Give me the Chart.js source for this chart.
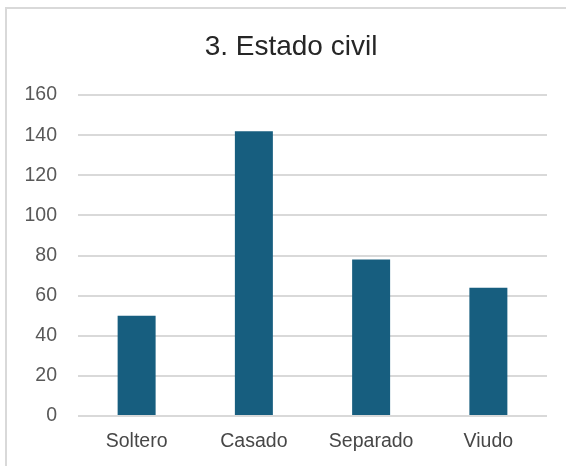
<!DOCTYPE html>
<html><head><meta charset="utf-8">
<script src="https://cdn.jsdelivr.net/npm/chart.js@4"></script>
<style>
html,body{margin:0;padding:0;background:#fff;overflow:hidden;width:566px;height:466px;}
#frame{position:absolute;left:5px;top:7px;width:700px;height:600px;border:2px solid #d9d9d9;box-sizing:border-box;}
#wrap{position:absolute;left:0;top:0;width:566px;height:466px;}
</style></head>
<body>
<div id="frame"></div>
<div id="wrap"><canvas id="c" width="566" height="466"></canvas></div>
<script>
const categories = ["Soltero", "Casado", "Separado", "Viudo"];
const values = [50, 142, 78, 64];
const yTicks = [0, 20, 40, 60, 80, 100, 120, 140, 160];
const titleText = "3. Estado civil";
const FONT = 'Liberation Sans, Arial, sans-serif';

new Chart(document.getElementById('c'), {
  type: 'bar',
  data: {
    labels: categories,
    datasets: [{ data: values, backgroundColor: '#175e7f', borderWidth: 0,
      categoryPercentage: 1.0, barPercentage: 0.324 }]
  },
  options: {
    responsive: false, animation: false,
    layout: { padding: { left: 20, right: 4, top: 0, bottom: 14 } },
    plugins: {
      legend: { display: false }, tooltip: { enabled: false },
      title: { display: true, text: titleText, color: '#262626',
        font: { family: FONT, size: 28, weight: 'normal' },
        padding: { top: 30.5, bottom: 31 } }
    },
    scales: {
      x: {
        grid: { display: false, drawTicks: false },
        border: { display: false },
        ticks: { color: '#474747', padding: 13.5, font: { family: FONT, size: 19.5 } },
        afterFit: s => { s.height = 36; }
      },
      y: {
        min: 0, max: 160,
        afterBuildTicks: s => { s.ticks = yTicks.map(v => ({ value: v })); },
        grid: { color: '#d9d9d9', lineWidth: 2, drawTicks: false },
        border: { display: false },
        ticks: { color: '#595959', padding: 21, font: { family: FONT, size: 19.5 } },
        afterFit: s => { s.width = 58; }
      },
      yR: {
        position: 'right', display: true,
        grid: { display: false, drawTicks: false },
        border: { display: false },
        ticks: { display: false },
        afterFit: s => { s.width = 15; }
      }
    }
  }
});
</script>
</body></html>
